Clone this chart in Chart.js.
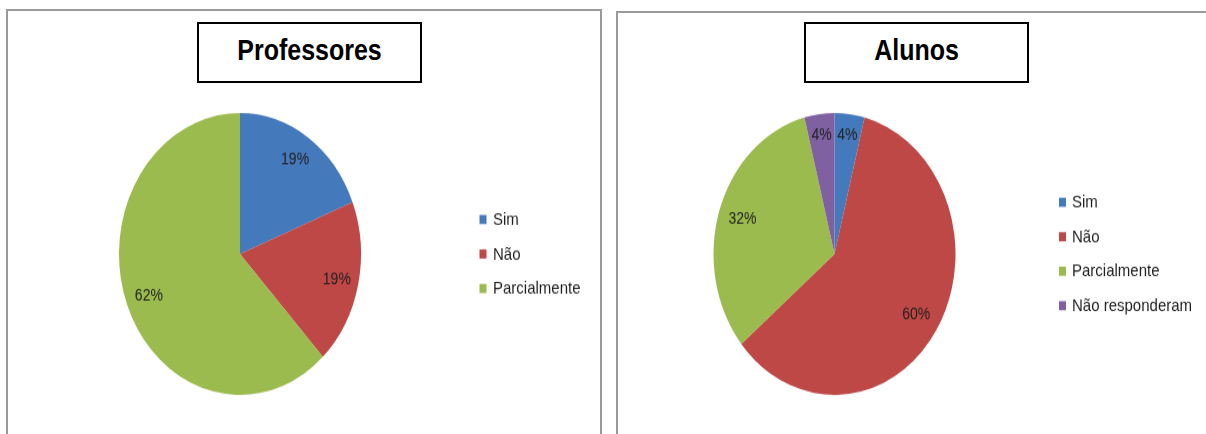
<!DOCTYPE html>
<html>
<head>
<meta charset="utf-8">
<script src="https://cdn.jsdelivr.net/npm/chart.js@4/dist/chart.umd.min.js"></script>
<style>
  html, body { margin: 0; padding: 0; background: #fff; width: 1206px; height: 434px; overflow: hidden; position: relative; }
  .panel { position: absolute; box-sizing: border-box; border: 2px solid #9a9a9a; background: #fff; }
  .titlebox { position: absolute; box-sizing: border-box; border: 2px solid #000; background: #fff;
              display: flex; align-items: center; justify-content: center; z-index: 3; }
  .titlebox span { display: inline-block; position: relative; top: -2px; transform: scaleY(1.165);
                   font-family: "Liberation Sans", Arial, sans-serif; font-weight: bold; font-size: 25px; color: #000; }
  .chartwrap { position: absolute; top: 0; height: 373px; transform: scaleY(1.165); transform-origin: 0 0; z-index: 2; }
</style>
</head>
<body>
<div class="panel" style="left:6px; top:9px; width:596px; height:440px;"></div>
<div class="panel" style="left:616px; top:11px; width:600px; height:440px;"></div>

<div class="titlebox" style="left:197px; top:22px; width:225px; height:61px;"><span id="t1"></span></div>
<div class="titlebox" style="left:804px; top:22px; width:225px; height:61px;"><span id="t2"></span></div>

<div class="chartwrap" style="left:0px; width:602px;"><canvas id="c1"></canvas></div>
<div class="chartwrap" style="left:602px; width:604px;"><canvas id="c2"></canvas></div>

<script>
// ---- data ----
const titleProfessores = 'Professores';
const categoriesProfessores = ['Sim', 'Não', 'Parcialmente'];
const valuesProfessores = [19, 19, 62];

const titleAlunos = 'Alunos';
const categoriesAlunos = ['Sim', 'Não', 'Parcialmente', 'Não responderam'];
const valuesAlunos = [4, 60, 32, 4];

// ---- style ----
const sliceColors = ['#4479BC', '#BE4846', '#9BBB4F', '#7F60A1'];
const FONT = '"Liberation Sans", Arial, sans-serif';

document.getElementById('t1').textContent = titleProfessores;
document.getElementById('t2').textContent = titleAlunos;

const pieLabelsPlugin = {
  id: 'pieLabels',
  afterDatasetsDraw(chart, args, opts) {
    const ctx = chart.ctx;
    const meta = chart.getDatasetMeta(0);
    const data = chart.data.datasets[0].data;
    ctx.save();
    ctx.font = '14px ' + FONT;
    ctx.fillStyle = '#1f1f1f';
    ctx.textAlign = 'center';
    ctx.textBaseline = 'middle';
    meta.data.forEach((arc, i) => {
      const p = arc.getProps(['x', 'y', 'startAngle', 'endAngle', 'outerRadius'], true);
      const mid = (p.startAngle + p.endAngle) / 2;
      const f = (opts.radii && opts.radii[i]) || 0.81;
      const x = p.x + Math.cos(mid) * p.outerRadius * f;
      const y = p.y + Math.sin(mid) * p.outerRadius * f;
      ctx.fillText(data[i] + '%', x, y);
    });
    ctx.restore();
  }
};

const sideLegendPlugin = {
  id: 'sideLegend',
  afterDraw(chart, args, opts) {
    const ctx = chart.ctx;
    const labels = chart.data.labels;
    const colors = chart.data.datasets[0].backgroundColor;
    const meta = chart.getDatasetMeta(0);
    const cy = meta.data[0].y;
    const n = labels.length;
    ctx.save();
    ctx.font = '15px ' + FONT;
    ctx.textBaseline = 'middle';
    ctx.textAlign = 'left';
    labels.forEach((lab, i) => {
      const y = cy + (i - (n - 1) / 2) * opts.spacing;
      ctx.fillStyle = colors[i];
      ctx.fillRect(opts.x, y - 3.9, 7, 7.8);
      ctx.fillStyle = '#1f1f1f';
      ctx.fillText(lab, opts.textX, y + 0.5);
    });
    ctx.restore();
  }
};

function makePie(id, labels, values, padding, legendOpts, radii) {
  return new Chart(document.getElementById(id), {
    type: 'pie',
    data: {
      labels: labels,
      datasets: [{
        data: values,
        backgroundColor: sliceColors.slice(0, values.length),
        borderWidth: 0
      }]
    },
    options: {
      responsive: true,
      maintainAspectRatio: false,
      animation: false,
      layout: { padding: padding },
      plugins: {
        legend: { display: false },
        tooltip: { enabled: false },
        title: { display: false },
        pieLabels: { radii: radii },
        sideLegend: legendOpts
      }
    },
    plugins: [pieLabelsPlugin, sideLegendPlugin]
  });
}

makePie('c1', categoriesProfessores, valuesProfessores,
  { left: 119, right: 241, top: 97, bottom: 34 },
  { x: 479.5, textX: 493, spacing: 29.6 },
  [0.81, 0.82, 0.81]);

makePie('c2', categoriesAlunos, valuesAlunos,
  { left: 111.5, right: 250.5, top: 97, bottom: 34 },
  { x: 457, textX: 470, spacing: 29.6 },
  [0.85, 0.8, 0.8, 0.85]);
</script>
</body>
</html>
